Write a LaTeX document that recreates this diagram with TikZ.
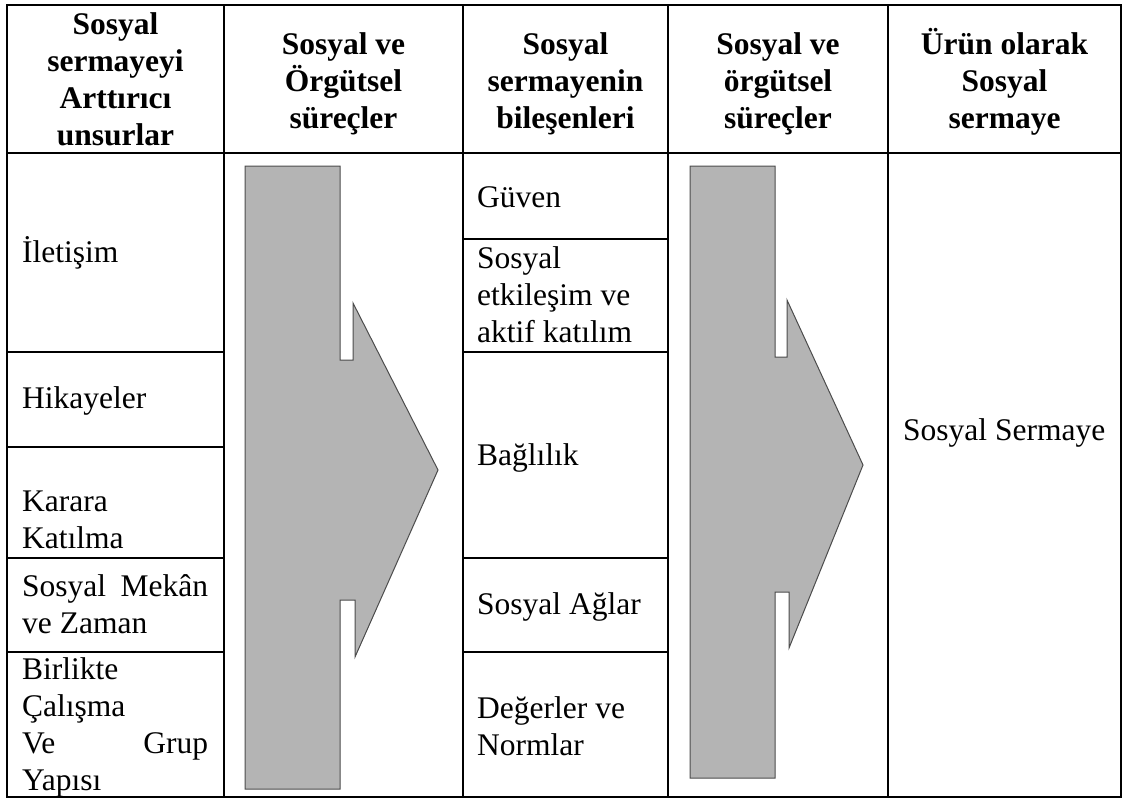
\documentclass[tikz,border=0pt]{standalone}
\usepackage{fontspec}
\setmainfont{Liberation Serif}
\definecolor{arrowgray}{RGB}{180,180,180}
\begin{document}
\begin{tikzpicture}[x=1pt,y=-1pt,
  tableline/.style={line width=1.5pt, draw=black},
  hdr/.style={font=\fontsize{31.5pt}{36.7pt}\selectfont\bfseries, align=center, anchor=base, inner sep=0pt},
  cell/.style={font=\fontsize{31.5pt}{36.7pt}\selectfont, align=left, anchor=base west, inner sep=0pt},
  flow/.style={fill=arrowgray, draw=black!70, line width=1pt, line join=miter}]
\useasboundingbox (0,0) rectangle (1124,801);
% table grid
\draw[tableline] (7,5) rectangle (1121,797);
\draw[tableline] (7,153) -- (1121,153);
\foreach \x in {224,463,668,888} \draw[tableline] (\x,5) -- (\x,797);
\foreach \y in {352,447,558,652} \draw[tableline] (7,\y) -- (224,\y);
\foreach \y in {239,352,558,652} \draw[tableline] (463,\y) -- (668,\y);
% headers (anchor = baseline of the last line)
\node[hdr] (h1) at (115.5,145) {Sosyal\\sermayeyi\\Arttırıcı\\unsurlar};
\node[hdr] (h2) at (343.5,128) {Sosyal ve\\Örgütsel\\süreçler};
\node[hdr] (h3) at (565.5,128) {Sosyal\\sermayenin\\bileşenleri};
\node[hdr] (h4) at (778,128) {Sosyal ve\\örgütsel\\süreçler};
\node[hdr] (h5) at (1004.5,128) {Ürün olarak\\Sosyal\\sermaye};
% column 1
\node[cell] (c1a) at (22,262) {İletişim};
\node[cell] (c1b) at (22,408) {Hikayeler};
\node[cell] (c1c) at (22,548) {Karara\\Katılma};
\node[cell] (c1d) at (22,633) {\makebox[186pt][s]{Sosyal Mekân}\\ve Zaman};
\node[cell] (c1e) at (22,790) {Birlikte\\Çalışma\\\makebox[186pt][s]{Ve Grup}\\Yapısı};
% column 3
\node[cell] (c3a) at (477,207) {Güven};
\node[cell] (c3b) at (477,342) {Sosyal\\etkileşim ve\\aktif katılım};
\node[cell] (c3c) at (477,465) {Bağlılık};
\node[cell] (c3d) at (477,614) {Sosyal Ağlar};
\node[cell] (c3e) at (477,755) {Değerler ve\\Normlar};
% column 5
\node[cell] (c5a) at (903,440) {Sosyal Sermaye};
% process arrows
\draw[flow] (245,166) -- (340,166) -- (340,360) -- (353,360) -- (353,303)
  -- (438,470) -- (355,657) -- (355,600) -- (340,600) -- (340,789)
  -- (245,789) -- cycle;
\draw[flow] (690,166) -- (775,166) -- (775,357) -- (787,357) -- (787,300)
  -- (863,465) -- (789,648) -- (789,592) -- (775,592) -- (775,778)
  -- (690,778) -- cycle;
\end{tikzpicture}
\end{document}
